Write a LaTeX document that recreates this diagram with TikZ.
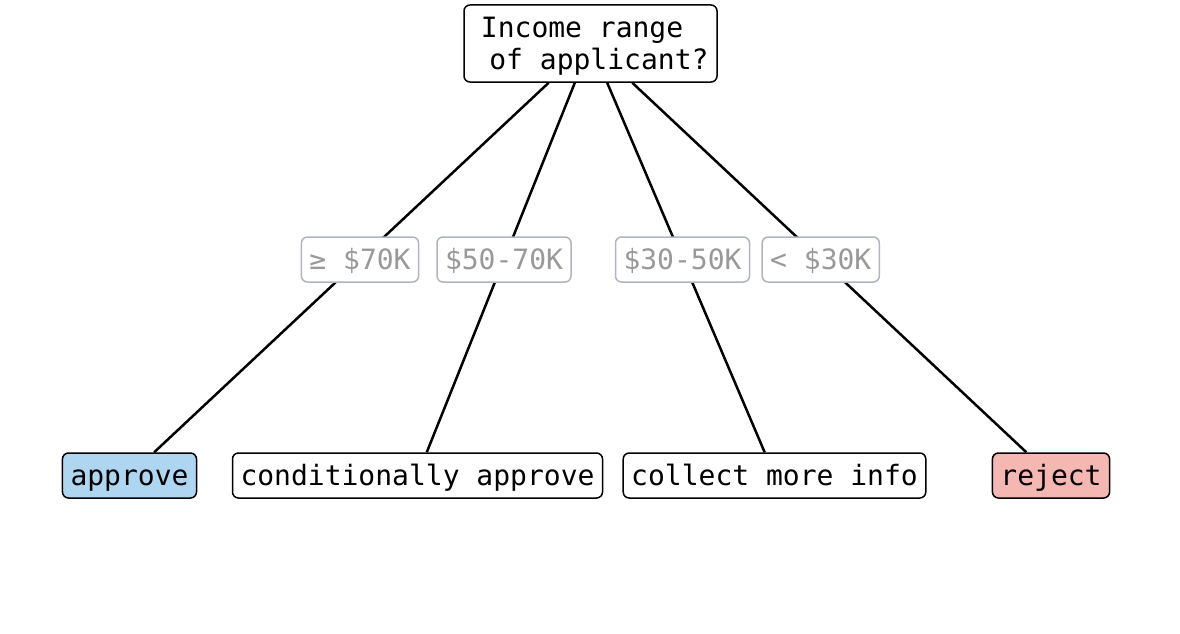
\documentclass[tikz,border=0pt]{standalone}
\usepackage{fontspec}
\setmonofont{DejaVu Sans Mono}
\usetikzlibrary{calc}
\definecolor{approvefill}{RGB}{174,214,241}
\definecolor{rejectfill}{RGB}{245,183,177}
\definecolor{lblgray}{RGB}{153,153,153}
\definecolor{lbledge}{RGB}{176,180,190}
\begin{document}
\begin{tikzpicture}[x=1pt,y=-1pt,
  every node/.style={draw,rounded corners=6pt,line width=1.5pt,inner xsep=8pt,inner ysep=0pt,
    font=\ttfamily\fontsize{28}{32}\selectfont},
  leaf/.style={minimum height=45pt,text height=23pt,text depth=4pt},
  lbl/.style={leaf,draw=lbledge,text=lblgray,fill=white}]

\useasboundingbox (0,0) rectangle (1180,634);

\node[align=center,minimum width=253pt,minimum height=77pt](root) at (590.5,43.5)
  {\rule{0pt}{25pt}Income range\phantom{x}\\\phantom{x}of applicant?};
\node[leaf,fill=approvefill](approve) at (129.5,475.5) {approve};
\node[leaf](condapprove) at (417.5,475.5) {conditionally approve};
\node[leaf](collect) at (774.5,475.5) {collect more info};
\node[leaf,fill=rejectfill](reject) at (1051,475.5) {reject};

\draw[line width=2.5pt](root)--(approve);
\draw[line width=2.5pt](root)--(condapprove);
\draw[line width=2.5pt](root)--(collect);
\draw[line width=2.5pt](root)--(reject);

\node[lbl](high) at ($(root)!0.5!(approve)$) {≥ \$70K};
\node[lbl](upper) at ($(root)!0.5!(condapprove)$) {\$50-70K};
\node[lbl](middle) at ($(root)!0.5!(collect)$) {\$30-50K};
\node[lbl](low) at ($(root)!0.5!(reject)$) {< \$30K};
\end{tikzpicture}
\end{document}
